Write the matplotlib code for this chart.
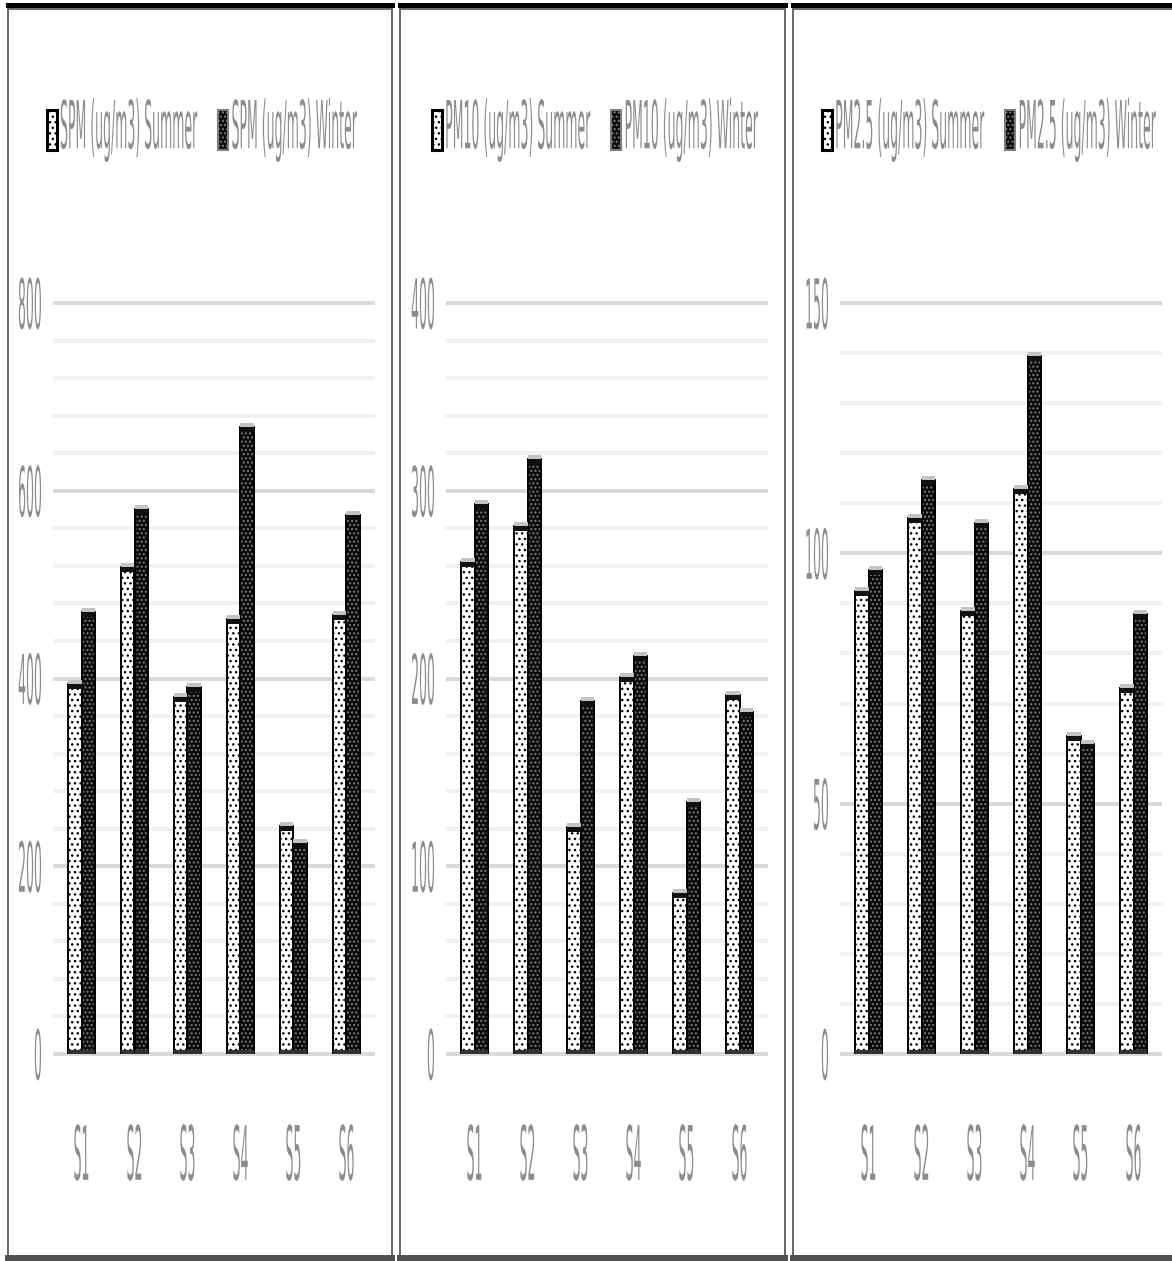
import numpy as np
import matplotlib
matplotlib.use("Agg")
import matplotlib.pyplot as plt
import matplotlib.patches as mpatches
import matplotlib.patheffects as pe
from matplotlib.lines import Line2D
from matplotlib.transforms import Affine2D

# data
sites = ['S1', 'S2', 'S3', 'S4', 'S5', 'S6']
spm_summer = [394, 519, 380, 463, 243, 468]
spm_winter = [471, 581, 391, 668, 225, 574]
pm10_summer = [262, 281, 121, 201, 86, 191]
pm10_winter = [293, 317, 188, 212, 134, 182]
pm25_summer = [92.4, 107, 88.4, 112.8, 63.5, 73.2]
pm25_winter = [96.6, 114.6, 106, 139.5, 62, 87.8]

names = ['SPM', 'PM10', 'PM2.5']
summers = [spm_summer, pm10_summer, pm25_summer]
winters = [spm_winter, pm10_winter, pm25_winter]
ymax = [800, 400, 150]
major_step = [200, 100, 50]
minor_step = [40, 20, 10]

W, H = 1172, 1261
TXT = '#8c8c8c'
plt.rcParams['font.family'] = ['DejaVu Sans']


class Stretch(pe.AbstractPathEffect):
    # stretch a text path vertically about its own centre
    def __init__(self, sy=5.5):
        super().__init__()
        self.sy = sy

    def draw_path(self, renderer, gc, tpath, affine, rgbFace=None):
        ext = affine.transform_path(tpath).get_extents()
        cx = ext.x0 + ext.width / 2
        cy = ext.y0 + ext.height / 2
        extra = Affine2D().translate(-cx, -cy).scale(1.0, self.sy).translate(cx, cy)
        renderer.draw_path(gc, tpath, affine + extra, rgbFace)


fig = plt.figure(figsize=(W / 100, H / 100), dpi=100)

ax_left = [55, 448, 842]
panel_x = [(8, 392), (400, 785), (793, 1178)]

for i in range(3):
    # panel frame
    x0, x1 = panel_x[i]
    fig.add_artist(mpatches.Rectangle((x0 / W, 3 / H), (x1 - x0) / W, (H - 8) / H,
                                      transform=fig.transFigure, fill=False,
                                      edgecolor='#4d4d4d', lw=1.2))
    fig.add_artist(Line2D([x0 / W, x1 / W], [(H - 5) / H] * 2, transform=fig.transFigure,
                          color='black', lw=3.6))
    fig.add_artist(Line2D([x0 / W, x1 / W], [(H - 8.5) / H] * 2, transform=fig.transFigure,
                          color='#6e6e6e', lw=1.5))
    fig.add_artist(Line2D([x0 / W, x1 / W], [3 / H] * 2, transform=fig.transFigure,
                          color='#505050', lw=4.3))

    ax = fig.add_axes([ax_left[i] / W, (H - 1054) / H, 318 / W, 751 / H])
    x = np.arange(len(sites))
    s = np.array(summers[i], dtype=float)
    w_ = np.array(winters[i], dtype=float)
    bw = 0.25
    px = ymax[i] / 751.0  # data units per pixel
    cap = 5 * px

    # summer bars
    ax.bar(x - bw / 2, s, bw, color='white', edgecolor='black', hatch='...', lw=0, zorder=2)
    ax.bar(x - bw / 2, s, bw, fill=False, edgecolor='black', lw=1.4, zorder=3)
    # winter bars
    ax.bar(x + bw / 2, w_, bw, color='#0a0a0a', edgecolor='#7d7d7d', hatch='....', lw=0, zorder=2)
    ax.bar(x + bw / 2, w_, bw, fill=False, edgecolor='black', lw=1.4, zorder=3)
    # dark caps, light tops and dark bases
    for xs, v in ((x - bw / 2, s), (x + bw / 2, w_)):
        ax.bar(xs, cap, bw, bottom=v - cap, color='#111111', zorder=4)
        ax.bar(xs, 4 * px, bw, bottom=v, color='#c4c4c4', zorder=4)
        ax.bar(xs, 4 * px, bw, bottom=0, color='#333333', zorder=4)

    ax.set_xlim(-0.5, 5.5)
    ax.set_ylim(0, ymax[i])
    ax.set_yticks(np.arange(0, ymax[i] + 1, major_step[i]))
    ax.set_yticks(np.arange(0, ymax[i] + 1, minor_step[i]), minor=True)
    ax.set_xticks(x, sites)
    ax.set_axisbelow(True)
    ax.grid(which='major', axis='y', color='#d9d9d9', lw=2.8)
    ax.grid(which='minor', axis='y', color='#f1f1f1', lw=2.8)
    ax.tick_params(axis='both', which='both', length=0, labelsize=9, labelcolor=TXT)
    ax.tick_params(axis='y', pad=9.4)
    ax.tick_params(axis='x', pad=67)
    for sp in ax.spines.values():
        sp.set_visible(False)
    ax.patch.set_alpha(0)

    handles = [mpatches.Patch(facecolor='white', edgecolor='black', hatch='...', lw=2.2),
               mpatches.Patch(facecolor='#0a0a0a', edgecolor='#7d7d7d', hatch='....', lw=1.5)]
    labels = [f'{names[i]} (ug/m3) Summer', f'{names[i]} (ug/m3) Winter']
    leg = ax.legend(handles, labels, loc='center', bbox_to_anchor=(0.462, 1.23), ncol=2,
                    frameon=False, fontsize=9, handlelength=0.8, handleheight=4.5,
                    handletextpad=0.25, columnspacing=1.7, labelcolor=TXT)
    for t in leg.get_texts():
        t.set_path_effects([Stretch(5.3)])

fig.canvas.draw()
for ax in fig.axes:
    for t in ax.get_yticklabels():
        t.set_path_effects([Stretch(5.5)])
    for t in ax.get_xticklabels():
        t.set_path_effects([Stretch(6.0)])
    for tick in ax.yaxis.get_major_ticks() + ax.yaxis.get_minor_ticks():
        tick.gridline.set_clip_on(False)

fig.savefig('out.png', dpi=100)
